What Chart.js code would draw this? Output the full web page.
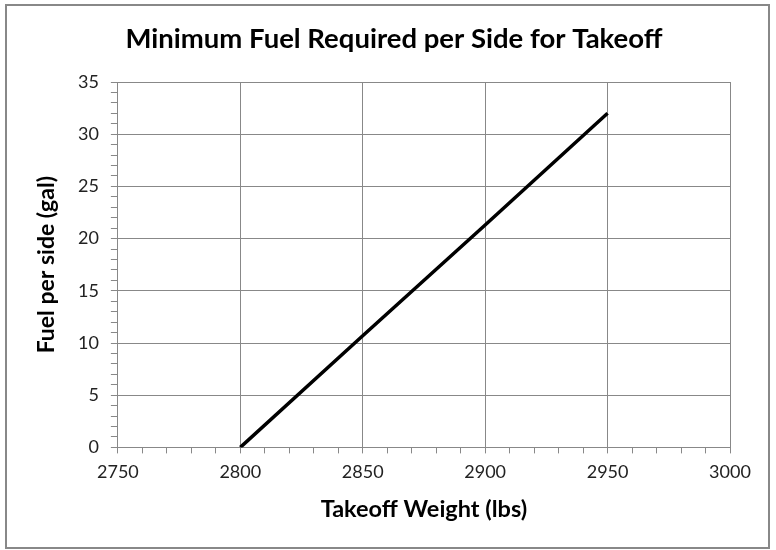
<!DOCTYPE html>
<html>
<head>
<meta charset="utf-8">
<script src="https://cdn.jsdelivr.net/npm/chart.js@4.4.0/dist/chart.umd.min.js"></script>
<style>
  body { margin: 0; background: #fff; }
  #wrap { width: 776px; height: 550px; }
</style>
</head>
<body>
<div id="wrap"><canvas id="canvas" width="776" height="550"></canvas></div>
<script>
// values
var weights = [2800, 2850, 2900, 2950];
var fuel = [0, 10.7, 21.3, 32];
var xTicks = [2750, 2800, 2850, 2900, 2950, 3000];
var yTicks = [0, 5, 10, 15, 20, 25, 30, 35];

var chartTitle = 'Minimum Fuel Required per Side for Takeoff';
var xTitle = 'Takeoff Weight (lbs)';
var yTitle = 'Fuel per side (gal)';

var points = [];
for (var i in weights) {
	points.push({x: weights[i], y: fuel[i]});
}

// pick a font size so the text is about as wide as in the reference
function fitFont(ctx, text, width) {
	ctx.font = 'bold 20px Lato';
	var w = ctx.measureText(text).width;
	return Math.round(20 * width / w * 2) / 2;
}

// outer frame and the three titles
var frame = {
	id: 'frame',
	beforeDraw: function(chart) {
		var ctx = chart.ctx;
		ctx.save();
		ctx.fillStyle = '#fff';
		ctx.fillRect(0, 0, chart.width, chart.height);
		ctx.strokeStyle = '#888';
		ctx.lineWidth = 2;
		ctx.strokeRect(6, 5, 763, 543);
		ctx.restore();
	},
	afterDraw: function(chart) {
		var ctx = chart.ctx;
		var area = chart.chartArea;
		ctx.save();
		ctx.fillStyle = '#000';
		ctx.textAlign = 'center';
		ctx.textBaseline = 'middle';

		ctx.font = 'bold ' + fitFont(ctx, chartTitle, 540) + 'px Lato';
		ctx.fillText(chartTitle, 394, 39);

		ctx.font = 'bold ' + fitFont(ctx, xTitle, 206) + 'px Lato';
		ctx.fillText(xTitle, (area.left + area.right) / 2, 509);

		ctx.font = 'bold ' + fitFont(ctx, yTitle, 176) + 'px Lato';
		ctx.translate(47, (area.top + area.bottom) / 2);
		ctx.rotate(-Math.PI / 2);
		ctx.fillText(yTitle, 0, 0);
		ctx.restore();
	}
};

function isMajor(v, list) {
	return list.indexOf(v) !== -1;
}

var c = document.getElementById('canvas');
var chart = new Chart(c, {
	type: 'scatter',
	data: {
		datasets: [{
			label: 'Fuel',
			data: points,
			showLine: true,
			borderColor: '#000',
			backgroundColor: '#000',
			borderWidth: 3.5,
			pointRadius: 0,
			tension: 0
		}]
	},
	options: {
		responsive: false,
		animation: false,
		layout: {padding: {left: 66, right: 46, top: 82, bottom: 59}},
		plugins: {
			legend: {display: false},
			tooltip: {enabled: false},
			title: {display: false}
		},
		scales: {
			x: {
				type: 'linear',
				min: 2750,
				max: 3000,
				border: {color: '#888', width: 1},
				grid: {
					color: function(ctx) { return isMajor(ctx.tick.value, xTicks) ? '#888' : 'rgba(0,0,0,0)'; },
					tickColor: '#888',
					tickLength: 6,
					drawTicks: true
				},
				ticks: {
					stepSize: 10,
					autoSkip: false,
					maxRotation: 0,
					color: '#222',
					font: {family: 'Lato', size: 18},
					padding: 8,
					callback: function(v) { return isMajor(v, xTicks) ? v : ''; }
				}
			},
			y: {
				type: 'linear',
				min: 0,
				max: 35,
				border: {color: '#888', width: 1},
				grid: {
					color: function(ctx) { return isMajor(ctx.tick.value, yTicks) ? '#888' : 'rgba(0,0,0,0)'; },
					tickColor: '#888',
					tickLength: 7,
					drawTicks: true
				},
				ticks: {
					stepSize: 1,
					autoSkip: false,
					color: '#222',
					font: {family: 'Lato', size: 18},
					padding: 12,
					callback: function(v) { return isMajor(v, yTicks) ? v : ''; }
				}
			}
		}
	},
	plugins: [frame]
});
</script>
</body>
</html>
